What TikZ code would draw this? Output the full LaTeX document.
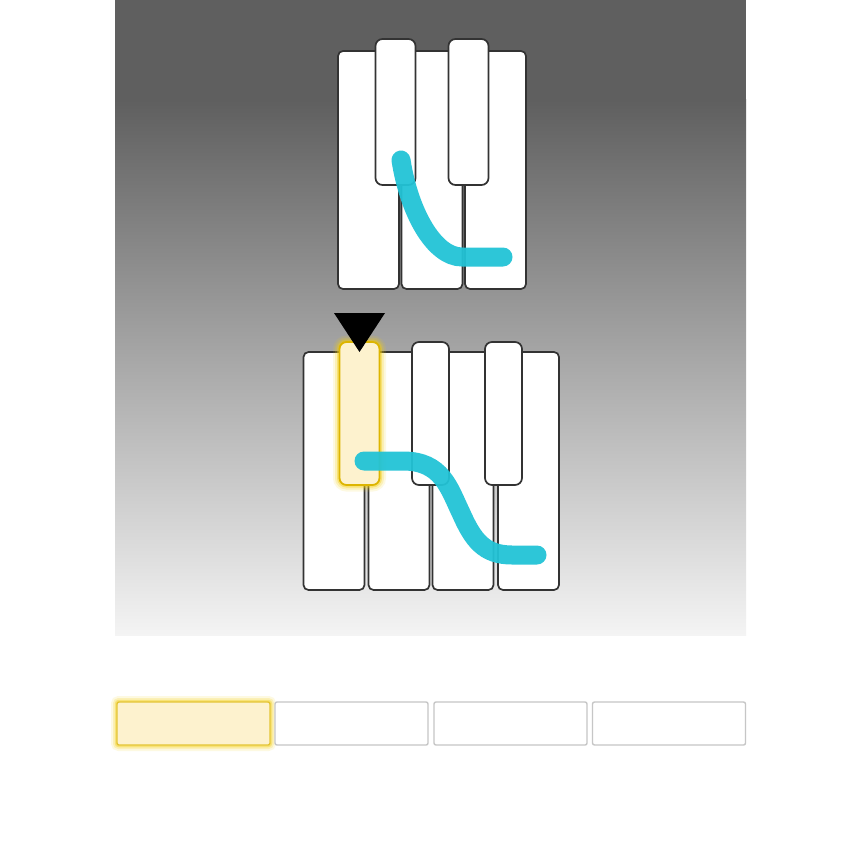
\documentclass[tikz,border=0pt]{standalone}
\begin{document}
\definecolor{keyline}{HTML}{333333}
\definecolor{bgtop}{HTML}{5F5F5F}
\definecolor{bgbot}{HTML}{F4F4F4}
\definecolor{cyanline}{HTML}{22C3D6}
\definecolor{hifill}{HTML}{FDF2CE}
\definecolor{hiborder}{HTML}{DDB500}
\definecolor{glowc}{HTML}{F4CE10}
\definecolor{slotline}{HTML}{C6C6C6}
\begin{tikzpicture}[x=1pt,y=-1pt,
  wkey/.style={draw=keyline, line width=1.7pt, fill=white, rounded corners=5pt,
    minimum width=61pt, minimum height=238pt, inner sep=0pt, outer sep=0pt},
  bkey/.style={wkey, minimum width=40pt, minimum height=146pt, rounded corners=7pt},
  hikey/.style={bkey, fill=hifill, draw=hiborder, line width=1.8pt,
    preaction={draw=glowc, line width=13pt, draw opacity=0.12},
    preaction={draw=glowc, line width=9pt, draw opacity=0.2},
    preaction={draw=glowc, line width=5pt, draw opacity=0.4}},
  slot/.style={draw=slotline, line width=1.4pt, fill=white, rounded corners=2pt,
    minimum width=153pt, minimum height=43pt, inner sep=0pt, outer sep=0pt},
  hislot/.style={slot, fill=hifill, draw=hiborder!80,
    preaction={draw=glowc, line width=12pt, draw opacity=0.12},
    preaction={draw=glowc, line width=8pt, draw opacity=0.2},
    preaction={draw=glowc, line width=4.5pt, draw opacity=0.38}},
  stroke/.style={draw=cyanline, line width=19pt, line cap=round, draw opacity=0.95},
  marker/.style={fill=black, draw=none}
]
\useasboundingbox (0,0) rectangle (864,864);
\fill[white] (0,0) rectangle (864,864);
% background gradient
\fill[bgtop] (115,0) rectangle (746,101);
\shade[top color=bgtop, bottom color=bgbot] (115,100) rectangle (746,635);

% ---- top keyboard ----
\node[wkey] (tw1) at (368.5,170) {};
\node[wkey] (tw2) at (432,170) {};
\node[wkey] (tw3) at (495.5,170) {};
\node[bkey] (tb1) at (395.5,112) {};
\node[bkey] (tb2) at (468.5,112) {};
\coordinate (ts) at (401,160);
\coordinate (tm) at (462,257);
\coordinate (te) at (503,257);
\draw[stroke] (ts) .. controls (409,212) and (434,257) .. (tm) -- (te);

% ---- bottom keyboard ----
\node[wkey] (bw1) at (334,471) {};
\node[wkey] (bw2) at (399,471) {};
\node[wkey] (bw3) at (463,471) {};
\node[wkey] (bw4) at (528.5,471) {};
\node[hikey, minimum height=143pt] (bb1) at (359.5,413.5) {};
\node[bkey, minimum width=37pt, minimum height=143pt] (bb2) at (430.5,413.5) {};
\node[bkey, minimum width=37pt, minimum height=143pt] (bb3) at (503.5,413.5) {};
\coordinate (bs) at (364,461);
\coordinate (b1) at (403,461);
\coordinate (b2) at (461,513);
\coordinate (b3) at (512,555);
\coordinate (be) at (537,555);
\draw[stroke] (bs) -- (b1) .. controls (442,461) and (449,488) .. (b2)
  .. controls (473,540) and (484,555) .. (b3) -- (be);
\coordinate (tl) at (334,313);
\coordinate (tr) at (385,313);
\coordinate (tp) at (359.5,352);
\fill[marker] (tl) -- (tr) -- (tp) -- cycle;

% ---- slots ----
\node[hislot] (s1) at (193.5,723.5) {};
\node[slot] (s2) at (351.5,723.5) {};
\node[slot] (s3) at (510.5,723.5) {};
\node[slot] (s4) at (669,723.5) {};
\end{tikzpicture}
\end{document}
